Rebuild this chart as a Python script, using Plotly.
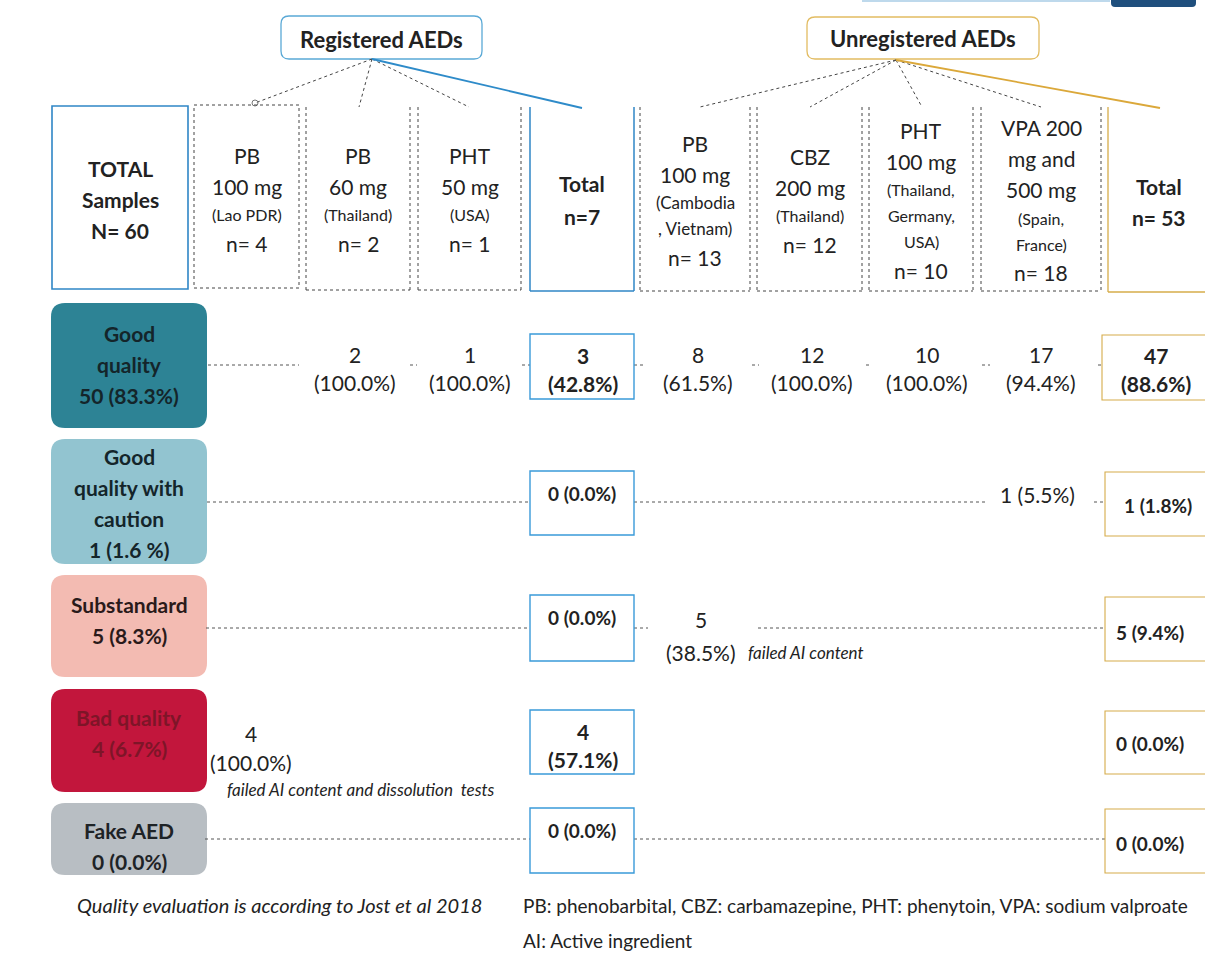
import plotly.graph_objects as go

W, H = 1205, 953
FONT = "Lato"
TXT = "#222222"

# ---------------- data ----------------
group_titles = ["Registered AEDs", "Unregistered AEDs"]
total_label = ["TOTAL", "Samples", "N= 60"]

reg_head = [["PB", "100 mg"], ["PB", "60 mg"], ["PHT", "50 mg"]]
reg_origin = [["(Lao PDR)"], ["(Thailand)"], ["(USA)"]]
reg_n = [4, 2, 1]
reg_total_n = 7

unreg_head = [["PB", "100 mg"], ["CBZ", "200 mg"], ["PHT", "100 mg"], ["VPA 200", "mg and", "500 mg"]]
unreg_origin = [["(Cambodia", ", Vietnam)"], ["(Thailand)"], ["(Thailand,", "Germany,", "USA)"], ["(Spain,", "France)"]]
unreg_n = [13, 12, 10, 18]
unreg_total_n = 53

categories = [["Good", "quality"], ["Good", "quality with", "caution"], ["Substandard"], ["Bad quality"], ["Fake AED"]]
cat_count = [50, 1, 5, 4, 0]
cat_pct = ["83.3%", "1.6 %", "8.3%", "6.7%", "0.0%"]

reg_good = [None, 2, 1]
reg_good_pct = [None, "100.0%", "100.0%"]
reg_bad = [4, None, None]
reg_bad_pct = ["100.0%", None, None]
reg_bad_note = "failed AI content and dissolution  tests"

unreg_good = [8, 12, 10, 17]
unreg_good_pct = ["61.5%", "100.0%", "100.0%", "94.4%"]
unreg_caution = [None, None, None, 1]
unreg_caution_pct = [None, None, None, "5.5%"]
unreg_sub = [5, None, None, None]
unreg_sub_pct = ["38.5%", None, None, None]
unreg_sub_note = "failed AI content"

reg_total = [3, 0, 0, 4, 0]
reg_total_pct = ["42.8%", "0.0%", "0.0%", "57.1%", "0.0%"]
unreg_total = [47, 1, 5, 0, 0]
unreg_total_pct = ["88.6%", "1.8%", "9.4%", "0.0%", "0.0%"]

footnote_left = "Quality evaluation is according to Jost et al 2018"
footnote_right = ["PB: phenobarbital, CBZ: carbamazepine, PHT: phenytoin, VPA: sodium valproate",
                  "AI: Active ingredient"]

# ---------------- layout helpers ----------------
shapes = []
annotations = []


def text(x, y, s, size, bold=False, italic=False, color=TXT, xanchor="center"):
    if bold:
        s = "<b>" + s + "</b>"
    if italic:
        s = "<i>" + s + "</i>"
    annotations.append(dict(x=x, y=y, xref="x", yref="y", text=s, showarrow=False,
                            xanchor=xanchor, yanchor="middle",
                            font=dict(family=FONT, size=size, color=color)))


def line(x0, y0, x1, y1, color="#444444", width=1, dash="dot"):
    shapes.append(dict(type="line", x0=x0, y0=y0, x1=x1, y1=y1, xref="x", yref="y",
                       line=dict(color=color, width=width, dash=dash)))


def rect(x0, y0, x1, y1, color, width=1.2, dash="solid", fill="rgba(0,0,0,0)"):
    shapes.append(dict(type="rect", x0=x0, y0=y0, x1=x1, y1=y1, xref="x", yref="y",
                       line=dict(color=color, width=width, dash=dash), fillcolor=fill))


def rrect(x0, y0, x1, y1, r, fill, color=None, width=0):
    p = (f"M{x0+r},{y0} L{x1-r},{y0} Q{x1},{y0} {x1},{y0+r} L{x1},{y1-r} Q{x1},{y1} {x1-r},{y1} "
         f"L{x0+r},{y1} Q{x0},{y1} {x0},{y1-r} L{x0},{y0+r} Q{x0},{y0} {x0+r},{y0} Z")
    shapes.append(dict(type="path", path=p, xref="x", yref="y", fillcolor=fill,
                       line=dict(color=color or fill, width=width)))


def stack(x, center, lines):
    # lines: list of (text, size, bold)
    hs = [31 if sz >= 19 else 26 for _, sz, _ in lines]
    pos = [0.0]
    for i in range(1, len(lines)):
        pos.append(pos[-1] + (hs[i - 1] + hs[i]) / 2)
    off = center - pos[-1] / 2
    for (s, sz, b), p in zip(lines, pos):
        text(x, off + p, s, sz, bold=b)


BLUE = "#2f86c6"
GOLD = "#d6ac4a"
BIG = 21
SMALL = 16

# top-right page remnants
line(862, 1, 1110, 1, color="#a9cde6", width=1.5, dash="solid")
rrect(1111, -12, 1196, 7, 4, "#1f4f7d")

# group title boxes
rrect(281, 16, 482, 59, 8, "white", color="#5aa9d6", width=1.3)
text(381, 39, group_titles[0], 22, bold=True)
rrect(807, 17, 1039, 59, 8, "white", color="#e2bc62", width=1.3)
text(923, 38, group_titles[1], 22, bold=True)

# connectors
for ex, ey in [(255, 103), (359, 107), (469, 107)]:
    line(372, 59, ex, ey)
line(372, 59, 582, 108, color="#2e8bc9", width=1.8, dash="solid")
shapes.append(dict(type="circle", x0=252, y0=100, x1=258, y1=106, xref="x", yref="y",
                   line=dict(color="#777", width=1)))
for ex, ey in [(700, 107), (810, 107), (922, 107), (1041, 107)]:
    line(896, 60, ex, ey)
line(896, 60, 1160, 108, color="#dba83a", width=1.8, dash="solid")

# TOTAL samples box
rect(52, 106, 188, 289, BLUE, width=1.6)
stack(120, 199, [(s, BIG, True) for s in total_label])

# registered column boxes
reg_bounds = [(194, 299), (306, 410), (418, 521)]
for i, (x0, x1) in enumerate(reg_bounds):
    if i == 0:
        rect(x0, 105, x1, 288, "#444", width=1, dash="dot")
    else:
        line(x0, 107, x0, 290)
        line(x1, 107, x1, 290)
        line(x0, 290, x1, 290)
    xc = (x0 + x1) / 2
    lines = [(s, BIG, False) for s in reg_head[i]] + [(s, SMALL, False) for s in reg_origin[i]] + \
            [(f"n= {reg_n[i]}", BIG, False)]
    stack(xc, 199, lines)

# registered total column
line(530, 107, 530, 291, color=BLUE, width=1.5, dash="solid")
line(634, 107, 634, 291, color=BLUE, width=1.5, dash="solid")
line(530, 291, 634, 291, color=BLUE, width=1.5, dash="solid")
text(582, 183, "Total", BIG, bold=True)
text(582, 216, f"n={reg_total_n}", BIG, bold=True)

# unregistered column boxes
unreg_bounds = [(640, 750), (757, 862), (869, 973), (981, 1101)]
for i, (x0, x1) in enumerate(unreg_bounds):
    line(x0, 107, x0, 291)
    line(x1, 107, x1, 291)
    line(x0, 291, x1, 291)
    xc = (x0 + x1) / 2
    osz = 17 if i == 0 else SMALL
    lines = [(s, BIG, False) for s in unreg_head[i]] + [(s, osz, False) for s in unreg_origin[i]] + \
            [(f"n= {unreg_n[i]}", BIG, False)]
    stack(xc, 200, lines)

# unregistered total column
line(1108, 107, 1108, 292, color=GOLD, width=1.3, dash="solid")
line(1108, 292, 1215, 292, color=GOLD, width=1.3, dash="solid")
text(1159, 186, "Total", BIG, bold=True)
text(1159, 217, f"n= {unreg_total_n}", BIG, bold=True)

# ---------------- quality rows ----------------
cat_boxes = [(303, 428), (439, 564), (575, 677), (689, 792), (803, 875)]
cat_fill = ["#2d8395", "#92c4d0", "#f3bbb2", "#c2163c", "#b8bec3"]
cat_txt = ["#14252a", "#14252a", "#2a1a1a", "#7e1528", "#1e2326"]
cat_text_center = [364, 503, 620, 733, 846]
for i, (y0, y1) in enumerate(cat_boxes):
    rrect(51, y0, 207, y1, 14, cat_fill[i])
    lines = categories[i] + [f"{cat_count[i]} ({cat_pct[i]})"]
    hs = 31
    top = cat_text_center[i] - hs * (len(lines) - 1) / 2
    for k, s in enumerate(lines):
        text(129, top + k * hs, s, 21, bold=True, color=cat_txt[i])

# dotted row connectors
row_segments = [
    [(208, 299), (410, 417), (522, 530), (634, 645), (752, 759), (866, 872), (982, 990), (1098, 1104)],
    [(207, 530), (634, 988), (1094, 1106)],
    [(206, 530), (634, 648), (758, 1105)],
    [],
    [(205, 530), (634, 1105)],
]
row_line_y = [365, 502, 628, 0, 839]
for r, segs in enumerate(row_segments):
    for x0, x1 in segs:
        line(x0, row_line_y[r], x1, row_line_y[r], color="#555", width=1)

reg_x = [247, 355, 470]
unreg_x = [698, 812, 927, 1041]
VAL = 21

# registered cells
for j, v in enumerate(reg_good):
    if v is not None:
        text(reg_x[j], 354, str(v), VAL)
        text(reg_x[j], 382, f"({reg_good_pct[j]})", VAL)
for j, v in enumerate(reg_bad):
    if v is not None:
        text(251, 733, str(v), VAL)
        text(251, 762, f"({reg_bad_pct[j]})", VAL)
text(361, 789, reg_bad_note, 17, italic=True)

# unregistered cells
for j, v in enumerate(unreg_good):
    if v is not None:
        text(unreg_x[j], 354, str(v), VAL)
        text(unreg_x[j], 382, f"({unreg_good_pct[j]})", VAL)
for j, v in enumerate(unreg_caution):
    if v is not None:
        text(1037, 494, f"{v} ({unreg_caution_pct[j]})", VAL)
for j, v in enumerate(unreg_sub):
    if v is not None:
        text(701, 619, str(v), VAL)
        text(701, 652, f"({unreg_sub_pct[j]})", VAL)
text(746, 652, unreg_sub_note, 17, italic=True, xanchor="left")

# registered total boxes
reg_tbox = [(334, 399), (471, 535), (595, 661), (710, 774), (808, 873)]
for r, (y0, y1) in enumerate(reg_tbox):
    rect(530, y0, 634, y1, "#3a9ad9", width=1.4)
    if reg_total[r] > 0:
        text(583, y0 + 21, str(reg_total[r]), 21, bold=True)
        text(583, y0 + 49, f"({reg_total_pct[r]})", 21, bold=True)
    else:
        text(582, y0 + 22, f"{reg_total[r]} ({reg_total_pct[r]})", 19, bold=True)

# unregistered total boxes
unreg_tbox = [(335, 400), (472, 536), (597, 661), (711, 774), (809, 873)]
unreg_tx = [1156, 1158, 1150, 1150, 1150]
unreg_ty = [None, 505, 632, 743, 843]
for r, (y0, y1) in enumerate(unreg_tbox):
    x0 = 1102 if r == 0 else 1105
    rect(x0, y0, 1215, y1, GOLD, width=1.1)
    if r == 0:
        text(unreg_tx[r], y0 + 20, str(unreg_total[r]), 21, bold=True)
        text(unreg_tx[r], y0 + 48, f"({unreg_total_pct[r]})", 21, bold=True)
    else:
        text(unreg_tx[r], unreg_ty[r], f"{unreg_total[r]} ({unreg_total_pct[r]})", 19, bold=True)

# footnotes
text(279, 905, footnote_left, 20, italic=True)
text(521, 905, footnote_right[0], 19, xanchor="left")
text(521, 940, footnote_right[1], 19, xanchor="left")

fig = go.Figure()
fig.add_trace(go.Scatter(x=[0, W], y=[0, H], mode="markers", marker=dict(opacity=0),
                         hoverinfo="skip", showlegend=False))
fig.update_layout(
    width=W, height=H, margin=dict(l=0, r=0, t=0, b=0),
    paper_bgcolor="white", plot_bgcolor="white",
    xaxis=dict(range=[0, W], visible=False, fixedrange=True),
    yaxis=dict(range=[H, 0], visible=False, fixedrange=True),
    shapes=shapes, annotations=annotations, showlegend=False,
)
fig.write_html("out.html", config={"displayModeBar": False},
               post_script="document.body.style.margin='0';document.body.style.overflow='hidden';")
